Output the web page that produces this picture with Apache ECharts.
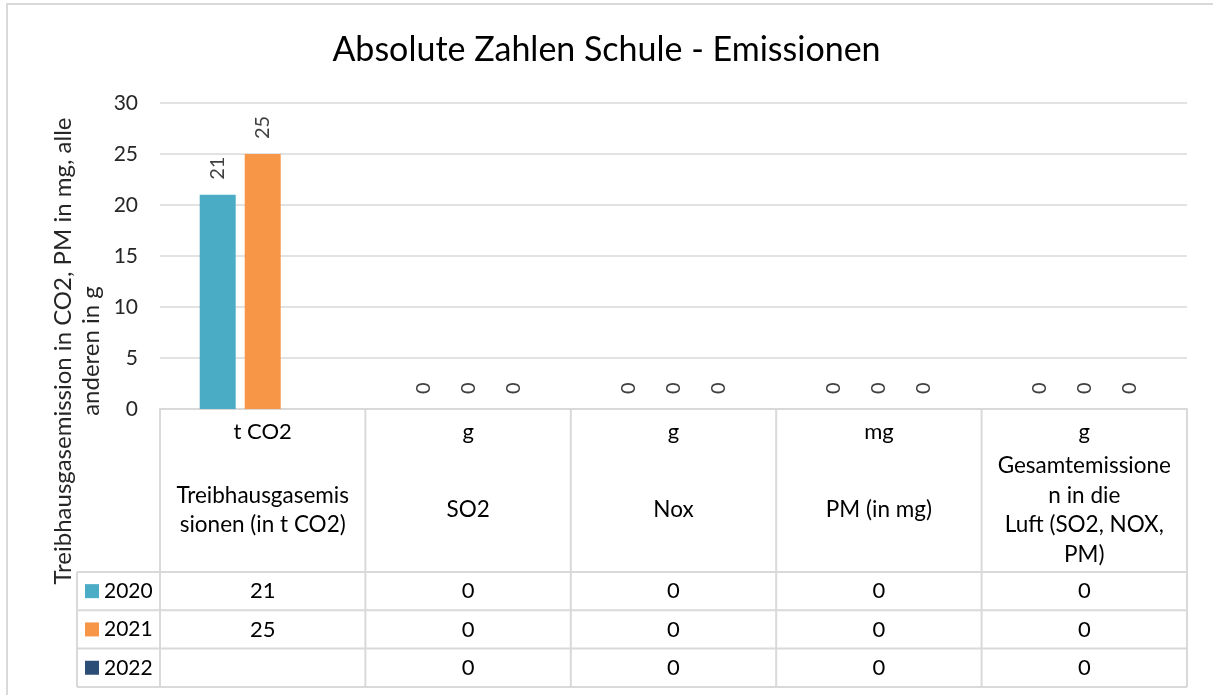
<!DOCTYPE html>
<html>
<head>
<meta charset="utf-8">
<script src="https://cdn.jsdelivr.net/npm/echarts@6/dist/echarts.min.js"></script>
<style>html,body{margin:0;padding:0;background:#fff;}#c{width:1213px;height:695px;}</style>
</head>
<body>
<div id="c"></div>
<script>
// ---- data ----
const categories = ['Treibhausgasemissionen (in t CO2)', 'SO2', 'Nox', 'PM (in mg)', 'Gesamtemissionen in die Luft (SO2, NOX, PM)'];
const units = ['t CO2', 'g', 'g', 'mg', 'g'];
const headerLines = [
  ['Treibhausgasemis', 'sionen (in t CO2)'],
  ['SO2'],
  ['Nox'],
  ['PM (in mg)'],
  ['Gesamtemissione', 'n in die', 'Luft (SO2, NOX,', 'PM)']
];
const years = ['2020', '2021', '2022'];
const values2020 = [21, 0, 0, 0, 0];
const values2021 = [25, 0, 0, 0, 0];
const values2022 = [null, 0, 0, 0, 0];
const yMin = 0, yMax = 30, yInterval = 5;
const titleText = 'Absolute Zahlen Schule - Emissionen';
const yName = 'Treibhausgasemission in CO2, PM in mg, alle\nanderen in g';

const colors = ['#4BACC6', '#F79646', '#2C4D75'];
const seriesValues = [values2020, values2021, values2022];
const FONT = 'Lato';
const lineCol = '#d9d9d9';

const chart = echarts.init(document.getElementById('c'));
const option = {
  animation: false,
  backgroundColor: '#fff',
  title: {
    text: titleText, left: 'center', top: 28,
    textStyle: { fontFamily: FONT, fontSize: 34, fontWeight: 'normal', color: '#000' }
  },
  grid: { left: 160, right: 26, top: 103, bottom: 286, containLabel: false },
  xAxis: {
    type: 'category', data: categories,
    axisLine: { show: true, lineStyle: { color: lineCol, width: 2 } },
    axisTick: { show: false }, axisLabel: { show: false }
  },
  yAxis: {
    type: 'value', min: yMin, max: yMax, interval: yInterval,
    axisLine: { show: false }, axisTick: { show: false },
    axisLabel: { fontFamily: FONT, fontSize: 21, color: '#262626', margin: 22 },
    splitLine: { lineStyle: { color: lineCol, width: 1.5 } }
  },
  series: years.map((y, i) => ({
    name: y, type: 'bar', data: seriesValues[i],
    barWidth: 36, barGap: '25%',
    itemStyle: { color: colors[i] },
    label: {
      show: true, position: 'top', rotate: 90, align: 'left', verticalAlign: 'middle',
      distance: 15, fontFamily: FONT, fontSize: 20, color: '#404040'
    }
  }))
};
chart.setOption(option);

// ---- data table & decorations ----
const cx = categories.map((c, i) => chart.convertToPixel({ xAxisIndex: 0 }, i));
const band = cx[1] - cx[0];
const tLeft = cx[0] - band / 2, tRight = cx[cx.length - 1] + band / 2;
const axisY = chart.convertToPixel({ yAxisIndex: 0 }, 0);
const headerBottom = 572, rowH = 38.3, legendLeft = 77;
const rowTops = years.map((y, i) => headerBottom + i * rowH);
const tableBottom = headerBottom + years.length * rowH;
const g = [];
const ls = { stroke: lineCol, lineWidth: 2 };
// outer chart border
g.push({ type: 'rect', shape: { x: 7, y: 4, width: 1230, height: 720 }, style: { fill: null, stroke: lineCol, lineWidth: 2 }, silent: true });
// vertical lines
for (let i = 0; i <= categories.length; i++) {
  const x = tLeft + i * band;
  g.push({ type: 'line', shape: { x1: x, y1: axisY, x2: x, y2: tableBottom }, style: ls });
}
g.push({ type: 'line', shape: { x1: legendLeft, y1: headerBottom, x2: legendLeft, y2: tableBottom }, style: ls });
// horizontal lines
for (let r = 0; r <= years.length; r++) {
  const y = headerBottom + r * rowH;
  g.push({ type: 'line', shape: { x1: legendLeft, y1: y, x2: tRight, y2: y }, style: ls });
}
const tstyle = (txt, extra) => Object.assign({ text: txt, fontFamily: FONT, fontSize: 22, fill: '#000', align: 'center', verticalAlign: 'middle' }, extra || {});
// headers
categories.forEach((c, i) => {
  g.push({ type: 'text', x: cx[i], y: 432, style: tstyle(units[i]) });
  g.push({ type: 'text', x: cx[i], y: 510, style: tstyle(headerLines[i].join('\n'), { lineHeight: 29.5, fontSize: 22.5 }) });
});
// rows
years.forEach((yr, r) => {
  const yc = rowTops[r] + rowH / 2;
  g.push({ type: 'rect', shape: { x: 85, y: yc - 7, width: 14, height: 14 }, style: { fill: colors[r] } });
  g.push({ type: 'text', x: 104, y: yc, style: tstyle(yr, { align: 'left', fontSize: 21 }) });
  seriesValues[r].forEach((v, i) => {
    if (v !== null && v !== undefined) {
      g.push({ type: 'text', x: cx[i], y: yc, style: tstyle(String(v)) });
    }
  });
});
// y axis name
g.push({ type: 'text', x: 77, y: 351, rotation: Math.PI / 2,
  style: tstyle(yName, { fontSize: 24, lineHeight: 28, fill: '#262626' }) });
chart.setOption({ graphic: { elements: g } });
</script>
</body>
</html>
